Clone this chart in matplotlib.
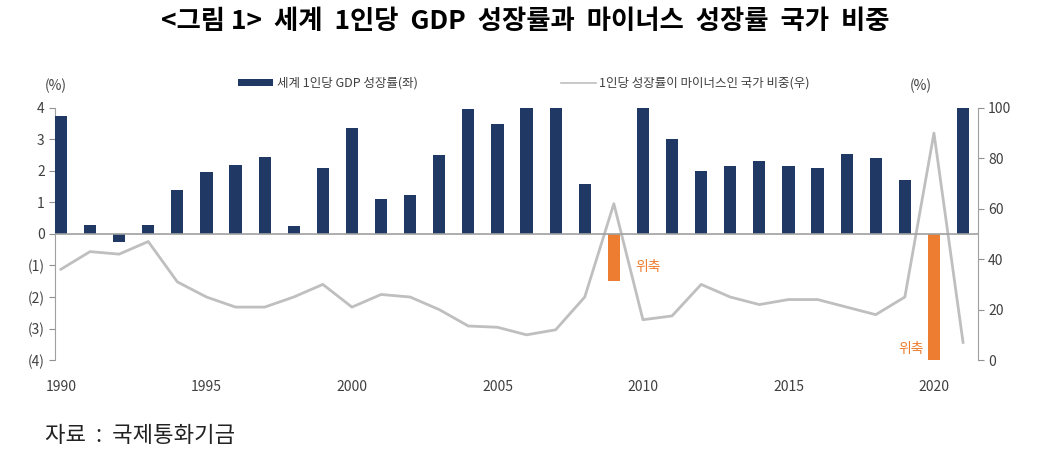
import matplotlib.pyplot as plt
import numpy as np

plt.rcParams['font.family'] = ['Noto Sans CJK KR', 'DejaVu Sans']

# 연도별 자료
years = np.arange(1990, 2022)
gdp_growth = [3.75, 0.3, -0.25, 0.3, 1.4, 1.95, 2.2, 2.45, 0.25, 2.1,
              3.35, 1.1, 1.25, 2.5, 3.95, 3.5, 4.0, 4.0, 1.6, -1.5,
              4.0, 3.0, 2.0, 2.15, 2.3, 2.15, 2.1, 2.55, 2.4, 1.7,
              -4.0, 4.0]
neg_share = [36, 43, 42, 47, 31, 25, 21, 21, 25, 30,
             21, 26, 25, 20, 13.5, 13, 10, 12, 25, 62,
             16, 17.5, 30, 25, 22, 24, 24, 21, 18, 25,
             90, 7]
bar_label = '세계 1인당 GDP 성장률(좌)'
line_label = '1인당 성장률이 마이너스인 국가 비중(우)'
note_years = [2009, 2020]   # 위축 연도

navy = '#1f3864'
orange = '#ed7d31'
grey = '#bfbfbf'
txt = '#404040'

fig = plt.figure(facecolor='white', figsize=(10.4, 4.67), dpi=100)
ax = fig.add_axes([0.053, 0.229, 0.887, 0.54])

cols = [orange if y in note_years else navy for y in years]
hb = ax.bar(years, gdp_growth, 0.42, color=cols, linewidth=0, label=bar_label, zorder=3)
ax.set_ylim(-4, 4)
ax.set_xlim(1989.8, 2021.5)
ax.set_yticks(np.arange(-4, 5, 1))
ax.set_yticklabels(['(%d)' % -v if v < 0 else '%d' % v for v in range(-4, 5)],
                   size=10, color=txt)
ax.set_xticks(np.arange(1990, 2021, 5))
ax.set_xticklabels([str(y) for y in range(1990, 2021, 5)], size=10, color=txt)
ax.tick_params(axis='x', length=0, pad=14)
ax.tick_params(axis='y', length=4, color='#909090', direction='out')
ax.axhline(0, color='#a0a0a0', linewidth=1.2, zorder=4)
for s in ['top', 'right', 'bottom']:
    ax.spines[s].set_visible(False)
ax.spines['left'].set_color('#a0a0a0')

ax2 = ax.twinx()
hl, = ax2.plot(years, neg_share, color=grey, linewidth=2, label=line_label, zorder=2)
ax2.set_ylim(0, 100)
ax2.set_yticks(np.arange(0, 101, 20))
ax2.set_yticklabels([str(v) for v in range(0, 101, 20)], size=10, color=txt)
ax2.tick_params(axis='y', length=4, color='#909090')
for s in ['top', 'left', 'bottom']:
    ax2.spines[s].set_visible(False)
ax2.spines['right'].set_color('#a0a0a0')
ax.set_zorder(ax2.get_zorder() + 1)
ax.patch.set_visible(False)

# 위축 표시
ax.text(note_years[0] + 0.75, -1.05, '위축', color=orange, size=10, va='center', ha='left')
ax.text(note_years[1] - 0.35, -3.65, '위축', color=orange, size=10, va='center', ha='right')

fig.text(0.043, 0.815, '(%)', size=10, color=txt, ha='left', va='center')
fig.text(0.875, 0.815, '(%)', size=10, color=txt, ha='left', va='center')

# 범례
hl_leg, = ax2.plot([], [], color=grey, linewidth=1.2)
fig.legend([hb, hl_leg], [bar_label, line_label], loc='center', bbox_to_anchor=(0.504, 0.822),
           ncol=2, frameon=False, fontsize=9, columnspacing=11.5, handlelength=2.8,
           handletextpad=0.25, handleheight=0.5, labelcolor=txt)

fig.text(0.505, 0.953, '<그림 1>  세계  1인당  GDP  성장률과  마이너스  성장률  국가  비중',
         size=19, weight='bold', ha='center', va='center', color='black')
fig.text(0.043, 0.068, '자료  :  국제통화기금', size=16, ha='left', va='center', color='#222222')

fig.savefig('out.png', dpi=100, facecolor='white')
